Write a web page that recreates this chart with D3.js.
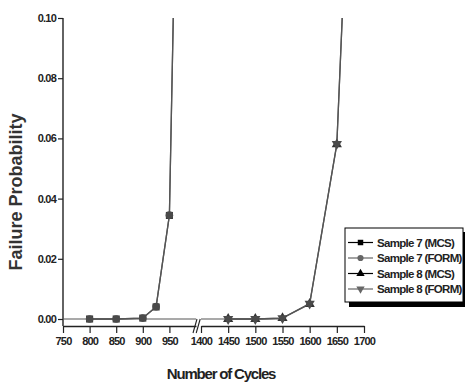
<!DOCTYPE html>
<html><head><meta charset="utf-8">
<script src="https://cdn.jsdelivr.net/npm/d3@7/dist/d3.min.js"></script>
<style>
body{margin:0;background:#fff;}
svg{display:block;}
.lbl{font-family:"Liberation Sans Narrow","Liberation Sans",Arial,sans-serif;font-weight:bold;fill:#222;}
</style></head>
<body><svg id="c" width="465" height="383"></svg>
<script>
// ---- data ----
const cycles7 = [800, 850, 900, 925, 950, 975];
const sample7MCS = [0, 0, 0.0003, 0.0040, 0.0344, 0.26];
const sample7FORM = [0, 0, 0.0003, 0.0041, 0.0345, 0.26];
const cycles8 = [1450, 1500, 1550, 1600, 1650, 1700];
const sample8MCS = [0, 0, 0.0003, 0.0050, 0.0580, 0.27];
const sample8FORM = [0, 0, 0.0003, 0.0051, 0.0582, 0.27];
const xTicksLeft = [750, 800, 850, 900, 950];
const xTicksRight = [1400, 1450, 1500, 1550, 1600, 1650, 1700];
const yTicks = [0, 0.02, 0.04, 0.06, 0.08, 0.10];
const legendLabels = ["Sample 7 (MCS)", "Sample 7 (FORM)", "Sample 8 (MCS)", "Sample 8 (FORM)"];

const svg = d3.select("#c");
const axisY = 326;
const y = d3.scaleLinear().domain([0, 0.10]).range([319, 18]);
const xL = d3.scaleLinear().domain([750, 1000]).range([63, 196]);
const xR = d3.scaleLinear().domain([1400, 1700]).range([201, 364]);

const defs = svg.append("defs");
defs.append("clipPath").attr("id", "cl").append("rect").attr("x", 63).attr("y", 18).attr("width", 133).attr("height", 310);
defs.append("clipPath").attr("id", "cr").append("rect").attr("x", 201).attr("y", 18).attr("width", 170).attr("height", 310);

// x axes
function xAxis(scale, major, minor) {
  const g = svg.append("g").attr("transform", `translate(0,${axisY})`);
  g.call(d3.axisBottom(scale).tickValues(minor).tickSize(4).tickFormat(""));
  g.call(d3.axisBottom(scale).tickValues(major).tickSize(7).tickSizeOuter(0).tickPadding(4).tickFormat(d3.format("d")));
  g.selectAll("path.domain").attr("stroke", "#222").attr("stroke-width", 1.4);
  g.selectAll("line").attr("stroke", "#222").attr("stroke-width", 1.2);
  g.selectAll("text").attr("class", "lbl").style("font-size", "11px").style("letter-spacing", "-0.8px").attr("fill", "#222");
}
xAxis(xL, xTicksLeft, [775, 825, 875, 925, 975]);
xAxis(xR, xTicksRight, [1425, 1475, 1525, 1575, 1625, 1675]);

// break marks
[0, 4].forEach(o => {
  svg.append("line").attr("x1", 193 + o * 0.8).attr("y1", 333).attr("x2", 197 + o * 0.8).attr("y2", 319)
    .attr("stroke", "#222").attr("stroke-width", 1.1);
});

// y axis
const gy = svg.append("g").attr("transform", "translate(63,0)");
gy.call(d3.axisLeft(y).tickValues([0.01, 0.03, 0.05, 0.07, 0.09]).tickSize(3).tickFormat(""));
gy.call(d3.axisLeft(y).tickValues(yTicks).tickSize(5).tickSizeOuter(0).tickPadding(2).tickFormat(d3.format(".2f")));
gy.selectAll("path.domain").remove();
gy.selectAll("line").attr("stroke", "#222").attr("stroke-width", 1.2);
gy.selectAll("text").attr("class", "lbl").style("font-size", "11px").style("letter-spacing", "-0.8px");
svg.append("line").attr("x1", 63).attr("x2", 63).attr("y1", 18).attr("y2", axisY).attr("stroke", "#222").attr("stroke-width", 1.4);

// zero baseline
svg.append("line").attr("x1", xL(750)).attr("x2", xL(1000)).attr("y1", y(0)).attr("y2", y(0)).attr("stroke", "#555").attr("stroke-width", 1.2);
svg.append("line").attr("x1", xR(1400)).attr("x2", xR(1550)).attr("y1", y(0)).attr("y2", y(0)).attr("stroke", "#555").attr("stroke-width", 1.2);

// series
const series = [
  {xs: cycles7, ys: sample7MCS, sc: xL, clip: "cl", sym: d3.symbolSquare, color: "#333", size: 50},
  {xs: cycles7, ys: sample7FORM, sc: xL, clip: "cl", sym: d3.symbolCircle, color: "#4a4a4a", size: 45},
  {xs: cycles8, ys: sample8MCS, sc: xR, clip: "cr", sym: d3.symbolTriangle, color: "#333", size: 45},
  {xs: cycles8, ys: sample8FORM, sc: xR, clip: "cr", sym: d3.symbolTriangle, color: "#4a4a4a", size: 45, rot: 180}
];
series.forEach(s => {
  const pts = s.xs.map((d, i) => [s.sc(d), y(s.ys[i])]);
  const g = svg.append("g").attr("clip-path", `url(#${s.clip})`);
  g.append("path").attr("d", d3.line()(pts)).attr("fill", "none").attr("stroke", "#555").attr("stroke-width", 1.3);
  g.selectAll("path.m").data(pts).join("path").attr("class", "m")
    .attr("d", d3.symbol().type(s.sym).size(s.size))
    .attr("transform", d => `translate(${d[0]},${d[1]})${s.rot ? " rotate(" + s.rot + ")" : ""}`)
    .attr("fill", s.color);
});

// axis titles
svg.append("text").attr("class", "lbl").attr("x", 221).attr("y", 379).attr("text-anchor", "middle")
  .style("font-size", "15px").style("letter-spacing", "-1.2px").text("Number of Cycles");
svg.append("text").attr("transform", "translate(22,192) rotate(-90)").attr("text-anchor", "middle")
  .style("font-family", "'Liberation Sans',Arial,sans-serif").style("font-weight", "bold").style("font-size", "18px").attr("fill", "#333")
  .text("Failure Probability");

// legend
const lg = svg.append("g");
lg.append("rect").attr("x", 349).attr("y", 232).attr("width", 118).attr("height", 75).attr("fill", "#000");
lg.append("rect").attr("x", 345).attr("y", 228).attr("width", 118).attr("height", 74).attr("fill", "#fff").attr("stroke", "#000").attr("stroke-width", 1);
const legSyms = [
  {sym: d3.symbolSquare, color: "#000", size: 30},
  {sym: d3.symbolCircle, color: "#666", size: 30},
  {sym: d3.symbolTriangle, color: "#000", size: 30},
  {sym: d3.symbolTriangle, color: "#666", size: 30, rot: 180}
];
legendLabels.forEach((t, i) => {
  const cy = 242.5 + i * 15.5;
  lg.append("line").attr("x1", 348).attr("x2", 373).attr("y1", cy).attr("y2", cy).attr("stroke", legSyms[i].color).attr("stroke-width", 1.2);
  lg.append("path").attr("d", d3.symbol().type(legSyms[i].sym).size(legSyms[i].size)())
    .attr("transform", `translate(360.5,${cy})${legSyms[i].rot ? " rotate(180)" : ""}`).attr("fill", legSyms[i].color);
  lg.append("text").attr("class", "lbl").attr("x", 377).attr("y", cy + 4).style("font-size", "11.5px").style("letter-spacing", "-0.7px").text(t);
});
</script></body></html>
